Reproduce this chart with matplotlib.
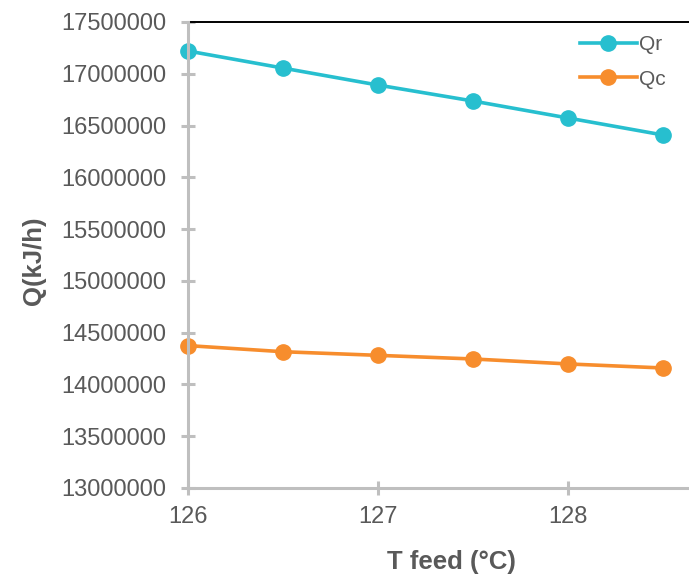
import matplotlib
matplotlib.use("Agg")
import matplotlib.pyplot as plt

t_feed = [126, 126.5, 127, 127.5, 128, 128.5]
qr = [17220000, 17055000, 16891000, 16737000, 16573000, 16409000]
qc = [14375000, 14316000, 14281000, 14246000, 14198000, 14159000]
yticks = list(range(13000000, 17500001, 500000))
xticks = [126, 127, 128]

plt.rcParams['font.family'] = ['Liberation Sans', 'DejaVu Sans']
grey_txt = '#595959'
grey_ax = '#bfbfbf'
c_qr = '#27bfcf'
c_qc = '#f78d2d'

fig = plt.figure(figsize=(6.89, 5.75), dpi=100)
ax = fig.add_axes([188/689, 1-488/575, 1-188/689, (488-22)/575])

ax.plot(t_feed, qr, color=c_qr, lw=2.6, marker='o', ms=11, label='Qr', zorder=3, clip_on=False)
ax.plot(t_feed, qc, color=c_qc, lw=2.6, marker='o', ms=11, label='Qc', zorder=3, clip_on=False)

ax.set_xlim(126, 126 + (689-188)/190)
ax.set_ylim(13000000, 17500000)
ax.set_xticks(xticks)
ax.set_xticklabels([str(v) for v in xticks])
ax.set_yticks(yticks)
ax.set_yticklabels([str(v) for v in yticks])

for s in ['left', 'bottom']:
    ax.spines[s].set_color(grey_ax)
    ax.spines[s].set_linewidth(2.2)
ax.spines['right'].set_visible(False)
ax.spines['top'].set_color('black')
ax.spines['top'].set_linewidth(1.4)
ax.spines['left'].set_zorder(4)

ax.tick_params(axis='both', direction='inout', length=9.5, width=2.2, color=grey_ax,
               labelsize=17, labelcolor=grey_txt)
ax.tick_params(axis='y', pad=11)
ax.tick_params(axis='x', pad=8)

ax.set_xlabel('T feed (°C)', fontsize=18.5, fontweight='bold', color=grey_txt)
ax.set_ylabel('Q(kJ/h)', fontsize=18.5, fontweight='bold', color=grey_txt)
ax.xaxis.set_label_coords((451-188)/501, (488-550)/466)
ax.yaxis.set_label_coords((46-188)/501, (488-261)/466)

leg = ax.legend(loc='upper right', bbox_to_anchor=(0.99, 1.012), frameon=False, fontsize=15,
                handlelength=2.7, handletextpad=0.1, labelspacing=0.75, labelcolor=grey_txt)

fig.savefig('out.png', dpi=100)
